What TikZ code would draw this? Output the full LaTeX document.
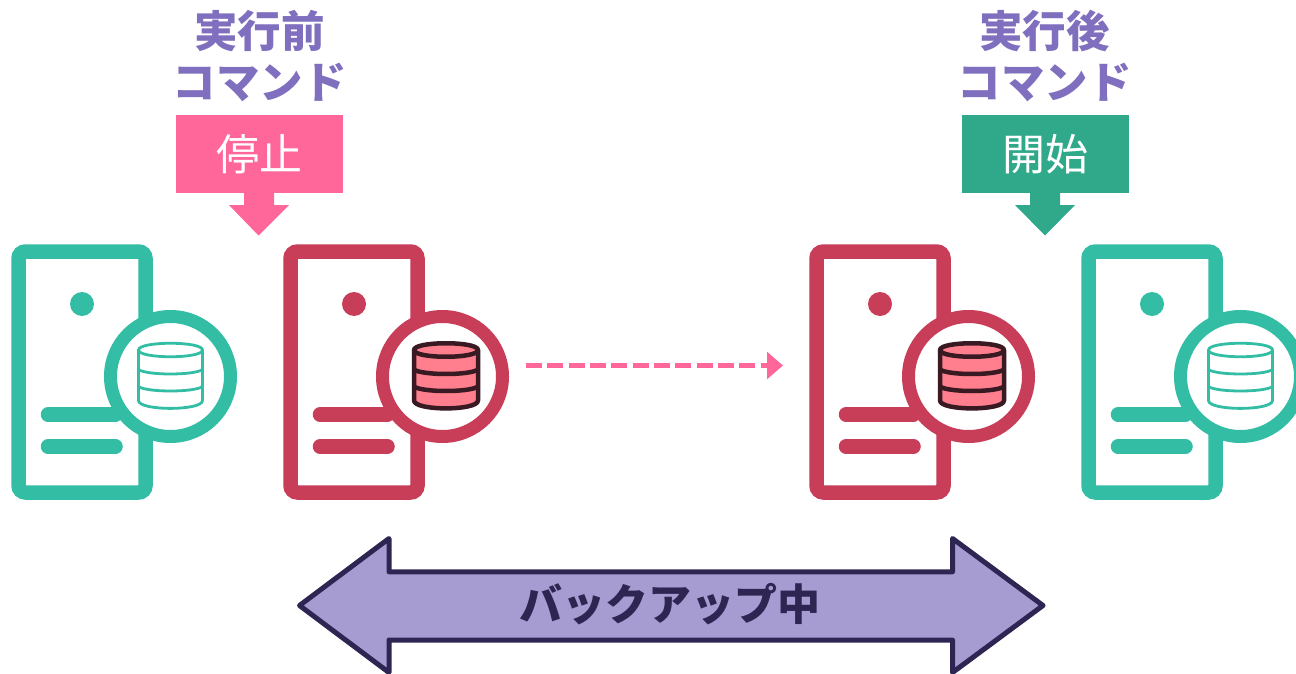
\documentclass[tikz,border=0pt]{standalone}
\usepackage{fontspec}
\newfontfamily\jp{Noto Sans CJK JP}
\usetikzlibrary{calc,arrows.meta}
\definecolor{tealc}{HTML}{33BDA5}
\definecolor{crim}{HTML}{C83D58}
\definecolor{pinkc}{HTML}{FF6699}
\definecolor{greenc}{HTML}{2FA98A}
\definecolor{purp}{HTML}{7F6FBE}
\definecolor{lav}{HTML}{A79CD2}
\definecolor{navy}{HTML}{2E2552}
\definecolor{rosef}{HTML}{FF7F8E}
\definecolor{dark}{HTML}{3A1A22}
\tikzset{
  titletext/.style={font=\jp\bfseries\fontsize{43.5}{51}\selectfont, text=purp, align=center, inner sep=0pt},
  cmdbox/.style={fill=#1, minimum width=167pt, minimum height=78pt, inner sep=0pt, text=white, font=\jp\fontsize{43}{50}\selectfont},
  pointer/.style={fill=#1, draw=none},
  bigarrow/.style={fill=lav, draw=navy, line width=5pt, line join=round},
  barlabel/.style={font=\jp\bfseries\fontsize{43}{50}\selectfont, text=navy, inner sep=0pt},
  dashconn/.style={pinkc, line width=5.3pt, dash pattern=on 16pt off 5.33pt, -{Triangle[length=16pt,width=26.5pt]}},
  pics/server/.style n args={5}{code={
    \draw[#1, line width=14.5pt, rounded corners=7pt] (-63.5,-120.5) rectangle (63.5,120.5);
    \fill[#1] (0,-68) circle (12);
    \draw[#1, line width=14.5pt, line cap=round] (-34,42.5) -- (33.5,42.5);
    \draw[#1, line width=14.5pt, line cap=round] (-34,74.5) -- (33.5,74.5);
    \draw[#1, line width=13pt, fill=white] (88.5,4.5) circle (60);
    \begin{scope}[shift={(88.5+#5,4.5)}]
      \draw[draw=#3, fill=#2, line width=#4, line join=round]
        (-32,-26.5) .. controls (-32,-35.5) and (32,-35.5) .. (32,-26.5)
        -- (32,24) .. controls (32,34.5) and (-32,34.5) .. (-32,24) -- cycle;
      \draw[#3, line width=#4] (-32,-26.5) .. controls (-32,-17.5) and (32,-17.5) .. (32,-26.5);
      \draw[#3, line width=#4] (-32,-7) .. controls (-24,-1) and (24,-1) .. (32,-7);
      \draw[#3, line width=#4] (-32,10) .. controls (-24,16) and (24,16) .. (32,10);
    \end{scope}
  }},
}
\begin{document}
\begin{tikzpicture}[x=1pt,y=-1pt]
\clip (0,0) rectangle (1296,674);
\fill[white] (0,0) rectangle (1296,674);

\pic at (82,372) {server={tealc}{white}{tealc}{2.8pt}{0}};
\pic at (354,372) {server={crim}{rosef}{dark}{4.5pt}{3.5}};
\pic at (880,372) {server={crim}{rosef}{dark}{4.5pt}{3.5}};
\pic at (1152,372) {server={tealc}{white}{tealc}{2.8pt}{0}};

\node[titletext] (pretitle) at (259.5,56) {実行前\\コマンド};
\node[titletext] (posttitle) at (1044.5,56) {実行後\\コマンド};

\node[cmdbox=pinkc] (stopbox) at (259,154) {\raisebox{-2pt}{停止}};
\node[cmdbox=greenc] (startbox) at (1045,154) {\raisebox{-2pt}{開始}};

\fill[pointer=pinkc] (244,193) -- (274,193) -- (274,205) -- (289,205) -- (258.5,235.5) -- (229,205) -- (244,205) -- cycle;
\fill[pointer=greenc] (1030,193) -- (1060,193) -- (1060,205) -- (1075,205) -- (1045,235.5) -- (1015,205) -- (1030,205) -- cycle;

\coordinate (dashstart) at (526,365.5);
\coordinate (dashend) at (783,365.5);
\draw[dashconn] (dashstart) -- (dashend);

\draw[bigarrow] (299.5,605.5) -- (389,538.5) -- (389,571.8) -- (952.5,571.8) -- (952.5,538.5) -- (1043,605.5) -- (952.5,672.5) -- (952.5,640) -- (389,640) -- (389,672.5) -- cycle;
\node[barlabel] (backup) at (670,604) {バックアップ中};
\end{tikzpicture}
\end{document}
